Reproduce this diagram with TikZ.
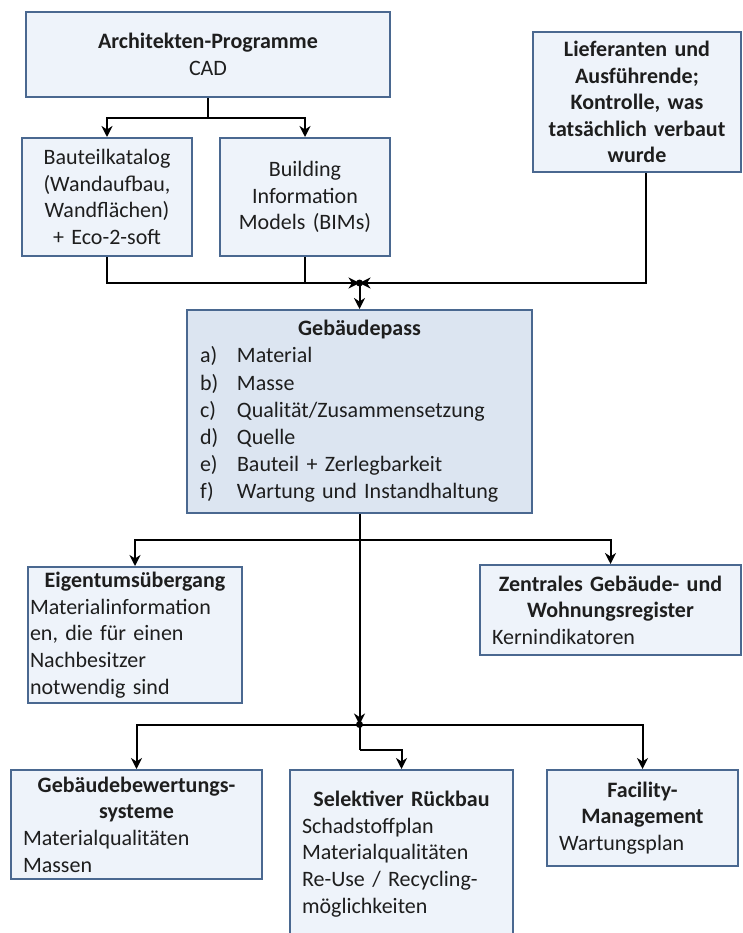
\documentclass[tikz,border=0pt]{standalone}
\usepackage{fontspec}
\setmainfont{Carlito}
\usetikzlibrary{arrows.meta,calc}
\definecolor{boxfill}{HTML}{EEF3FA}
\definecolor{passfill}{HTML}{DCE5F1}
\definecolor{boxline}{HTML}{4A6890}
\definecolor{ink}{HTML}{1E1E1E}

\begin{document}
\begin{tikzpicture}[x=1pt,y=-1pt,
  box/.style={draw=boxline, line width=2pt, fill=boxfill, inner sep=0pt,
    text=ink, font=\fontsize{22}{26.6}\selectfont},
  conn/.style={line width=2pt, draw=black},
  arr/.style={conn, -{Stealth[length=11pt,width=11pt,inset=3.5pt]}}]

\useasboundingbox (0,0) rectangle (742,933);
\clip (0,0) rectangle (742,933);
\fill[white] (0,0) rectangle (742,933);

% --- sources ---
\node[box, minimum width=364pt, minimum height=85pt, text width=340pt, align=center]
  (arch) at (208,54.5) {\textbf{Architekten-Programme}\\CAD};
\node[box, minimum width=170pt, minimum height=118pt, text width=166pt, align=center]
  (baut) at (107,197) {Bauteilkatalog\\(Wandaufbau,\\Wandflächen)\\+ Eco-2-soft};
\node[box, minimum width=170pt, minimum height=118pt, text width=166pt, align=center]
  (bim) at (305,197) {Building\\Information\\Models (BIMs)};
\node[box, minimum width=208pt, minimum height=140pt, text width=200pt, align=center,
  font=\fontsize{22}{26.6}\selectfont\bfseries]
  (lief) at (637,102) {Lieferanten und\\Ausführende;\\Kontrolle, was\\tatsächlich verbaut\\wurde};

% --- building passport ---
\node[box, fill=passfill, minimum width=345pt, minimum height=203pt, text width=319pt,
  align=left, font=\fontsize{22}{27.2}\selectfont]
  (pass) at (359.5,411.5) {{\centering\bfseries Gebäudepass\par}%
  \makebox[37pt][l]{a)}Material\\
  \makebox[37pt][l]{b)}Masse\\
  \makebox[37pt][l]{c)}Qualität/Zusammensetzung\\
  \makebox[37pt][l]{d)}Quelle\\
  \makebox[37pt][l]{e)}Bauteil + Zerlegbarkeit\\
  \makebox[37pt][l]{f)}Wartung und Instandhaltung};

% --- uses ---
\node[box, minimum width=214pt, minimum height=136pt, text width=210pt, align=left]
  (eig) at (135,635) {{\centering\bfseries Eigentumsübergang\par}%
  Materialinformation\\en, die für einen\\Nachbesitzer\\notwendig sind};
\node[box, minimum width=261pt, minimum height=90pt, text width=237pt, align=left]
  (zent) at (610.5,610) {{\centering\bfseries Zentrales Gebäude- und\\Wohnungsregister\par}%
  Kernindikatoren};
\node[box, minimum width=251pt, minimum height=109pt, text width=227pt, align=left]
  (bew) at (136.5,824.5) {{\centering\bfseries Gebäudebewertungs-\\systeme\par}%
  Materialqualitäten\\Massen};
\node[box, minimum width=223pt, minimum height=168pt, text width=199pt, align=left]
  (sel) at (401.5,854) {{\centering\bfseries Selektiver Rückbau\par}%
  Schadstoffplan\\Materialqualitäten\\Re-Use / Recycling-\\möglichkeiten};
\node[box, minimum width=191pt, minimum height=96pt, text width=167pt, align=left]
  (fac) at (642.5,818) {{\centering\bfseries Facility-\\Management\par}%
  Wartungsplan};

% --- junction points ---
\coordinate (split) at ($(arch.south)+(0,20)$);
\coordinate (j1) at (359.5,283);
\coordinate (liefout) at ($(lief.south)+(8.5,0)$);
\coordinate (b1) at ($(pass.south)+(0,26)$);
\coordinate (j2) at (359.5,724.5);
\coordinate (selbend) at ($(j2)+(0,25)$);

% --- connectors ---
\draw[conn] (arch.south) -- (split);
\draw[arr] (split) -| (baut.north);
\draw[arr] (split) -| (bim.north);

\draw[arr] (baut.south) |- (j1);
\draw[conn] (bim.south) |- (j1);
\draw[arr] (liefout) |- (j1);
\draw[arr] (j1) -- (pass.north);
\fill (j1) circle (3.5pt);

\draw[arr] (pass.south) -- (j2);
\draw[arr] (b1) -| (eig.north);
\draw[arr] (b1) -| (zent.north);

\draw[arr] (j2) -| (bew.north);
\draw[arr] (j2) -| (fac.north);
\draw[conn] (j2) -- (selbend);
\draw[arr] (selbend) -| (sel.north);
\fill (j2) circle (3.5pt);
\end{tikzpicture}
\end{document}
